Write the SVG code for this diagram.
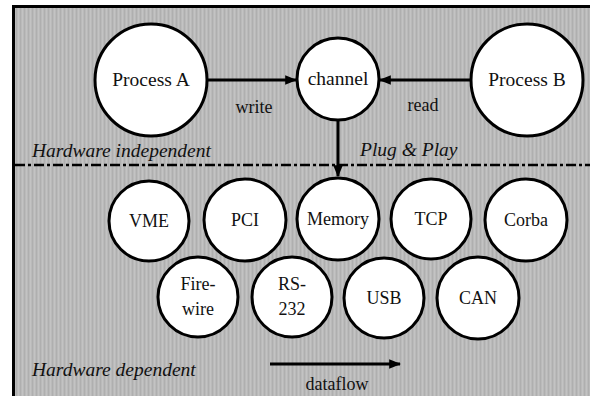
<svg xmlns="http://www.w3.org/2000/svg" width="590" height="396" viewBox="0 0 590 396">
<defs>
<pattern id="stripes" width="4" height="4" patternUnits="userSpaceOnUse">
<rect width="4" height="4" fill="#bababa"/>
<rect width="1" height="4" fill="#afafaf"/>
<rect x="2" width="1" height="4" fill="#c3c3c3"/>
</pattern>
<marker id="ah" viewBox="0 0 10 10" refX="9" refY="5" markerWidth="4" markerHeight="4" orient="auto" markerUnits="strokeWidth">
<path d="M0,1 L10,5 L0,9 z" fill="#000"/>
</marker>
<style>
.n{fill:#fff;stroke:#000;stroke-width:3}
.t{font-family:'Liberation Serif','DejaVu Serif',serif;font-size:18px;fill:#111;text-anchor:middle}
.big{font-size:19.5px}
.it{font-family:'Liberation Serif','DejaVu Serif',serif;font-size:19.5px;font-style:italic;fill:#111}
.c{stroke:#000;stroke-width:3;fill:none}
</style>
</defs>
<rect x="0" y="0" width="590" height="396" fill="#fff"/>
<rect x="13" y="6" width="577" height="390" fill="url(#stripes)"/>
<path d="M13.5,396 V6.5 H590" fill="none" stroke="#000" stroke-width="3"/>
<line x1="15" y1="165" x2="590" y2="165" stroke="#000" stroke-width="2.5" stroke-dasharray="10 3 3 3"/>
<text class="it" x="32" y="157">Hardware independent</text>
<text class="it" x="360" y="156">Plug &amp; Play</text>
<text class="it" x="32" y="376">Hardware dependent</text>
<g id="connectors">
<line class="c" x1="208" y1="80" x2="296" y2="80" marker-end="url(#ah)"/>
<line class="c" x1="470" y1="80" x2="380" y2="80" marker-end="url(#ah)"/>
<line class="c" x1="338" y1="121" x2="338" y2="176" marker-end="url(#ah)"/>
<line class="c" x1="270" y1="364" x2="400" y2="364" marker-end="url(#ah)"/>
<text class="t" x="254" y="113">write</text>
<text class="t" x="423" y="111">read</text>
<text class="t" x="337" y="390">dataflow</text>
</g>
<g id="processA"><circle class="n" cx="151" cy="80" r="56"/><text class="t big" x="151" y="86">Process A</text></g>
<g id="channel"><circle class="n" cx="338" cy="79" r="41"/><text class="t big" x="338" y="85">channel</text></g>
<g id="processB"><circle class="n" cx="527" cy="80" r="56"/><text class="t big" x="527" y="86">Process B</text></g>
<g id="vme"><circle class="n" cx="149" cy="221" r="40"/><text class="t" x="149" y="227">VME</text></g>
<g id="pci"><circle class="n" cx="245" cy="220" r="41"/><text class="t" x="245" y="226">PCI</text></g>
<g id="memory"><circle class="n" cx="338" cy="219" r="41"/><text class="t" x="338" y="225">Memory</text></g>
<g id="tcp"><circle class="n" cx="431" cy="219" r="40"/><text class="t" x="431" y="225">TCP</text></g>
<g id="corba"><circle class="n" cx="526" cy="220" r="41"/><text class="t" x="526" y="226">Corba</text></g>
<g id="firewire"><circle class="n" cx="198" cy="297" r="40"/><text class="t" x="198" y="290">Fire-</text><text class="t" x="198" y="315">wire</text></g>
<g id="rs232"><circle class="n" cx="292" cy="297" r="40"/><text class="t" x="292" y="290">RS-</text><text class="t" x="292" y="315">232</text></g>
<g id="usb"><circle class="n" cx="384" cy="298" r="40"/><text class="t" x="384" y="304">USB</text></g>
<g id="can"><circle class="n" cx="478" cy="298" r="41"/><text class="t" x="478" y="304">CAN</text></g>
</svg>
